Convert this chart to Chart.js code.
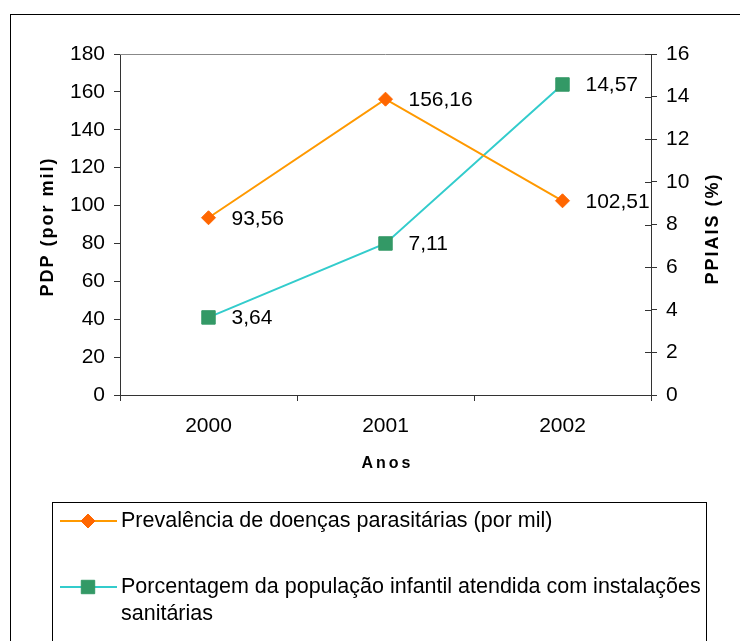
<!DOCTYPE html>
<html>
<head>
<meta charset="utf-8">
<title>PDP e PPIAIS</title>
<script src="https://cdn.jsdelivr.net/npm/chart.js@4/dist/chart.umd.min.js"></script>
<style>
  html, body { margin: 0; padding: 0; background: #fff; }
  canvas { display: block; }
</style>
</head>
<body>
<canvas id="grafico" width="740" height="641"></canvas>
<script>
// dados
const anos = ["2000", "2001", "2002"];
const pdp = [93.56, 156.16, 102.51];     // prevalencia de doencas parasitarias (por mil)
const ppiais = [3.64, 7.11, 14.57];      // % populacao infantil com instalacoes sanitarias
const nomes = [
  "Prevalência de doenças parasitárias (por mil)",
  "Porcentagem da população infantil atendida com instalações sanitárias"
];
const tituloEsq = "PDP (por mil)";
const tituloDir = "PPIAIS (%)";
const tituloX = "Anos";

const FONTE = "'Liberation Sans', Arial, sans-serif";
const EIXO = "#333";

function fmt(v){
  return v.toFixed(2).replace(".", ",");
}

// molduras, titulos, rotulos dos pontos e legenda
const extras = {
  id: "extras",
  afterDraw(chart){
    const ctx = chart.ctx;
    const a = chart.chartArea;
    ctx.save();

    // moldura externa
    ctx.strokeStyle = "#000";
    ctx.lineWidth = 1;
    ctx.strokeRect(10.5, 14.5, 800, 700);

    // borda superior da area do grafico
    ctx.strokeStyle = "#888";
    ctx.beginPath();
    ctx.moveTo(a.left, a.top + 0.5);
    ctx.lineTo(a.right, a.top + 0.5);
    ctx.stroke();

    // marcas cruzadas do eixo direito (parte interna)
    const y2 = chart.scales.y2;
    ctx.strokeStyle = EIXO;
    y2.ticks.forEach(t => {
      const py = Math.round(y2.getPixelForValue(t.value)) + 0.5;
      ctx.beginPath();
      ctx.moveTo(a.right - 6, py);
      ctx.lineTo(a.right, py);
      ctx.stroke();
    });

    // titulos dos eixos
    ctx.fillStyle = "#000";
    ctx.font = "bold 18px " + FONTE;
    ctx.letterSpacing = "2px";
    ctx.textAlign = "center";
    ctx.textBaseline = "middle";
    const meioY = (a.top + a.bottom) / 2;
    ctx.save();
    ctx.translate(48, meioY + 2);
    ctx.rotate(-Math.PI / 2);
    ctx.fillText(tituloEsq, 0, 0);
    ctx.restore();
    ctx.save();
    ctx.translate(713, meioY + 4);
    ctx.rotate(-Math.PI / 2);
    ctx.fillText(tituloDir, 0, 0);
    ctx.restore();

    ctx.font = "bold 16px " + FONTE;
    ctx.letterSpacing = "3px";
    ctx.fillText(tituloX, (a.left + a.right) / 2 + 2, 464);
    ctx.letterSpacing = "0px";

    // rotulos de valor ao lado dos pontos
    ctx.font = "21px " + FONTE;
    ctx.textAlign = "left";
    chart.data.datasets.forEach((ds, i) => {
      chart.getDatasetMeta(i).data.forEach((p, j) => {
        ctx.fillText(fmt(ds.data[j]), p.x + 23, p.y + 1);
      });
    });

    // legenda
    const lx = 52.5, ly = 502.5, lw = 654;
    ctx.strokeStyle = "#000";
    ctx.lineWidth = 1;
    ctx.strokeRect(lx, ly, lw, 300);
    const textoX = 121;
    const maxW = lx + lw - textoX - 2;
    const posY = [521, 587];
    const alturaLinha = 27;
    chart.data.datasets.forEach((ds, i) => {
      const y = posY[i];
      ctx.strokeStyle = ds.borderColor;
      ctx.lineWidth = 2;
      ctx.beginPath();
      ctx.moveTo(60, y);
      ctx.lineTo(117, y);
      ctx.stroke();

      ctx.fillStyle = ds.pointBackgroundColor;
      ctx.strokeStyle = ds.pointBorderColor;
      ctx.lineWidth = 1;
      Chart.helpers.drawPoint(ctx, {
        pointStyle: ds.pointStyle,
        radius: ds.pointRadius,
        borderWidth: 1,
        rotation: 0
      }, 88, y);

      // quebra de linha simples
      ctx.fillStyle = "#000";
      ctx.font = "21.5px " + FONTE;
      const palavras = ds.label.split(" ");
      const linhas = [];
      let atual = "";
      palavras.forEach(w => {
        const teste = atual ? atual + " " + w : w;
        if (ctx.measureText(teste).width > maxW && atual) {
          linhas.push(atual);
          atual = w;
        } else {
          atual = teste;
        }
      });
      linhas.push(atual);
      linhas.forEach((l, k) => ctx.fillText(l, textoX, y + k * alturaLinha));
    });

    ctx.restore();
  }
};

new Chart(document.getElementById("grafico"), {
  type: "line",
  data: {
    labels: anos,
    datasets: [{
      label: nomes[0],
      data: pdp,
      yAxisID: "y",
      borderColor: "#FF9900",
      borderWidth: 2,
      pointStyle: "rectRot",
      pointRadius: 7,
      pointBackgroundColor: "#FF6600",
      pointBorderColor: "#FF6600",
      pointBorderWidth: 1,
      tension: 0
    }, {
      label: nomes[1],
      data: ppiais,
      yAxisID: "y2",
      borderColor: "#33CCCC",
      borderWidth: 2,
      pointStyle: "rect",
      pointRadius: 9.5,
      pointBackgroundColor: "#339966",
      pointBorderColor: "#339966",
      pointBorderWidth: 1,
      tension: 0
    }]
  },
  options: {
    responsive: false,
    animation: false,
    devicePixelRatio: 1,
    layout: { padding: { top: 54, left: 0, right: 0, bottom: 0 } },
    plugins: {
      legend: { display: false },
      tooltip: { enabled: false }
    },
    scales: {
      x: {
        offset: true,
        grid: { offset: true, drawOnChartArea: false, tickLength: 6, color: EIXO },
        border: { color: EIXO, width: 1 },
        ticks: { color: "#000", padding: 13, font: { family: FONTE, size: 21 } },
        afterFit(s){ s.height = 246; }
      },
      y: {
        position: "left",
        min: 0, max: 180,
        grid: { drawOnChartArea: false, tickLength: 6, color: EIXO },
        border: { color: EIXO, width: 1 },
        ticks: { stepSize: 20, color: "#000", padding: 9, font: { family: FONTE, size: 21 } },
        afterFit(s){ s.width = 120; }
      },
      y2: {
        position: "right",
        min: 0, max: 16,
        grid: { drawOnChartArea: false, tickLength: 6, color: EIXO },
        border: { color: EIXO, width: 1 },
        ticks: { stepSize: 2, color: "#000", padding: 9, font: { family: FONTE, size: 21 } },
        afterFit(s){ s.width = 89; }
      }
    }
  },
  plugins: [extras]
});
</script>
</body>
</html>
